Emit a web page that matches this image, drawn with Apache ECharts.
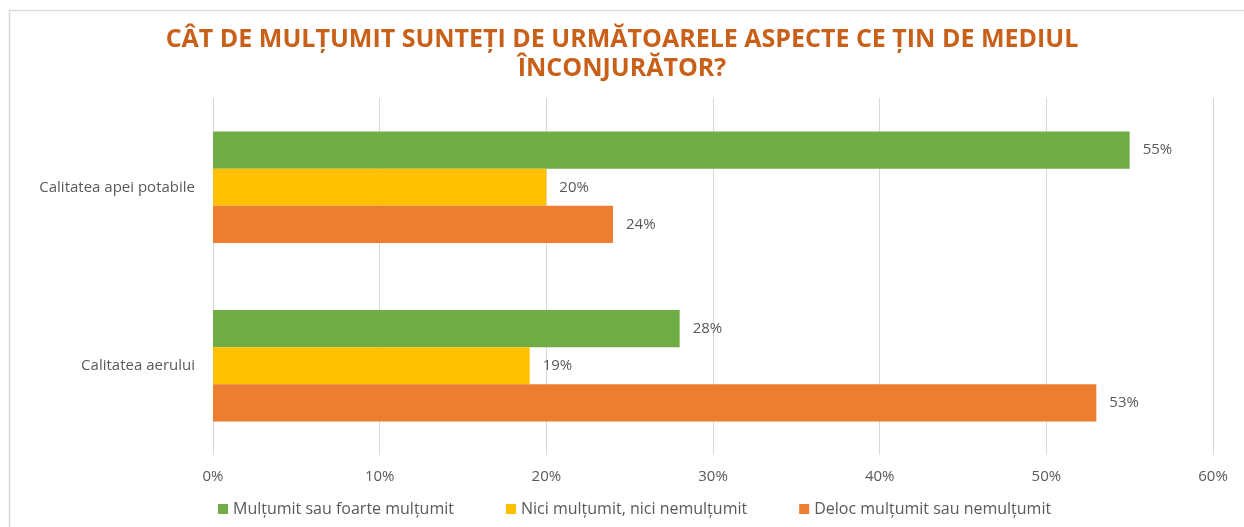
<!DOCTYPE html>
<html>
<head>
<meta charset="utf-8">
<script src="https://cdn.jsdelivr.net/npm/echarts@6/dist/echarts.min.js"></script>
<style>
  html, body { margin: 0; padding: 0; background: #fff; }
  #chart { width: 1244px; height: 527px; }
</style>
</head>
<body>
<div id="chart"></div>
<script>
// date
const categories = ['Calitatea apei potabile', 'Calitatea aerului']
const seriesNames = ['Mulțumit sau foarte mulțumit', 'Nici mulțumit, nici nemulțumit', 'Deloc mulțumit sau nemulțumit']
const multumit = [55, 28]
const neutru = [20, 19]
const nemultumit = [24, 53]
const xTicks = [0, 10, 20, 30, 40, 50, 60]

const colors = ['#70AD47', '#FFC000', '#ED7D31']
const font = '"Open Sans", "Noto Sans", sans-serif'

const myChart = echarts.init(document.getElementById('chart'))

const mkSeries = (name, data, color) => ({
  name: name,
  type: 'bar',
  data: data,
  barGap: '0%',
  barCategoryGap: '37.5%',
  itemStyle: { color: color },
  label: {
    show: true,
    position: 'right',
    distance: 13,
    formatter: p => p.value + '%',
    color: '#595959',
    fontSize: 15,
    fontFamily: font
  }
})

const option = {
  animation: false,
  title: {
    text: 'CÂT DE MULȚUMIT SUNTEȚI DE URMĂTOARELE ASPECTE CE ȚIN DE MEDIUL\nÎNCONJURĂTOR?',
    left: 'center',
    top: 20,
    textStyle: {
      color: '#C9601A',
      fontSize: 25,
      fontWeight: 'bold',
      fontFamily: font,
      lineHeight: 29
    }
  },
  // chenarul exterior
  graphic: [{
    type: 'rect',
    shape: { x: 9.5, y: 10.5, width: 1260, height: 540 },
    style: { fill: 'none', stroke: '#dcdcdc', lineWidth: 1.5 },
    silent: true
  }],
  legend: {
    data: seriesNames,
    top: 496,
    left: 213,
    itemWidth: 10,
    itemHeight: 10,
    itemGap: 52,
    icon: 'rect',
    textStyle: { color: '#595959', fontSize: 16, fontFamily: font }
  },
  grid: {
    left: 213,
    right: 31,
    top: 98,
    bottom: 72
  },
  xAxis: {
    type: 'value',
    min: xTicks[0],
    max: xTicks[xTicks.length - 1],
    interval: 10,
    axisLabel: {
      formatter: v => v + '%',
      color: '#595959',
      fontSize: 15,
      fontFamily: font,
      margin: 14
    },
    axisLine: { show: false },
    axisTick: { show: false },
    splitLine: { lineStyle: { color: '#d9d9d9', width: 1 } }
  },
  yAxis: {
    type: 'category',
    data: categories,
    inverse: true,
    axisLabel: {
      color: '#595959',
      fontSize: 15,
      fontFamily: font,
      margin: 18
    },
    axisLine: { show: false },
    axisTick: { show: false }
  },
  series: [
    mkSeries(seriesNames[0], multumit, colors[0]),
    mkSeries(seriesNames[1], neutru, colors[1]),
    mkSeries(seriesNames[2], nemultumit, colors[2])
  ]
}

myChart.setOption(option)
window.addEventListener('resize', () => myChart.resize())
</script>
</body>
</html>
